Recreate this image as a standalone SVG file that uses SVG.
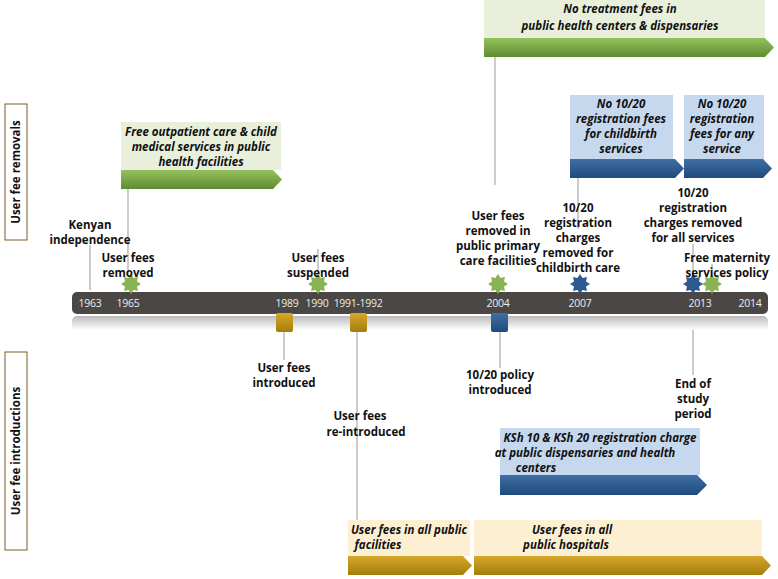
<svg xmlns="http://www.w3.org/2000/svg" width="778" height="579" viewBox="0 0 778 579">
<defs>
<linearGradient id="gG" x1="0" y1="0" x2="0" y2="1"><stop offset="0" stop-color="#95c15e"/><stop offset="1" stop-color="#5f8c30"/></linearGradient>
<linearGradient id="gB" x1="0" y1="0" x2="0" y2="1"><stop offset="0" stop-color="#3f6fa5"/><stop offset="1" stop-color="#1f4a7c"/></linearGradient>
<linearGradient id="gY" x1="0" y1="0" x2="0" y2="1"><stop offset="0" stop-color="#d6a82a"/><stop offset="1" stop-color="#a47e0c"/></linearGradient>
<linearGradient id="sh" x1="0" y1="0" x2="0" y2="1"><stop offset="0" stop-color="#bbb"/><stop offset="1" stop-color="#fff"/></linearGradient>
<polygon id="star" points="0,-10 2.5,-6 7,-7 6,-2.5 10,0 6,2.5 7,7 2.5,6 0,10 -2.5,6 -7,7 -6,2.5 -10,0 -6,-2.5 -7,-7 -2.5,-6"/>
</defs>
<style>
text{font-family:"Open Sans","Liberation Sans",sans-serif;font-size:11.5px;fill:#111;text-anchor:middle}
.b{font-weight:bold}
.bi{font-weight:bold;font-style:italic}
.yr{fill:#eee;font-size:10.5px;letter-spacing:-0.3px}
.ln{stroke:#999;stroke-width:1;fill:none}
.lg{fill:#e8f0dc}.lb{fill:#c6d8ee}.ly{fill:#fdf0d2}
.side{fill:#fff;stroke:#7a5a2a;stroke-width:1}
</style>
<g id="side-labels">
<rect class="side" x="5" y="104" width="22" height="136"/>
<text class="b" transform="translate(20,172) rotate(-90)">User fee removals</text>
<rect class="side" x="5" y="352" width="22" height="198"/>
<text class="b" transform="translate(20,451) rotate(-90)">User fee introductions</text>
</g>
<g id="connectors">
<path class="ln" d="M90,245V290M128,168V276M318,249V275M495,57V185M497,299V276M578,178V229M693,244V276M712,264V276M693,320V375M284,332V360M357,332V520M500,332V368"/>
</g>
<g id="timeline">
<rect x="72" y="316" width="696" height="14" rx="5" fill="url(#sh)"/>
<rect x="72" y="292" width="696" height="22" rx="5" fill="#4a4744"/>
<text class="yr" x="90" y="307">1963</text><text class="yr" x="128" y="307">1965</text>
<text class="yr" x="287" y="307">1989</text><text class="yr" x="317" y="307">1990</text>
<text class="yr" x="358" y="307">1991-1992</text><text class="yr" x="498" y="307">2004</text>
<text class="yr" x="580" y="307">2007</text><text class="yr" x="700" y="307">2013</text>
<text class="yr" x="750" y="307">2014</text>
</g>
<g id="markers">
<use href="#star" x="131" y="284" fill="#8ab356"/>
<use href="#star" x="318" y="284" fill="#8ab356"/>
<use href="#star" x="498" y="284" fill="#8ab356"/>
<use href="#star" x="712" y="284" fill="#8ab356"/>
<use href="#star" x="580" y="284" fill="#2a5a90"/>
<use href="#star" x="693" y="284" fill="#2a5a90"/>
<rect x="276" y="313" width="17" height="19" rx="2" fill="url(#gY)"/>
<rect x="350" y="313" width="17" height="19" rx="2" fill="url(#gY)"/>
<rect x="491" y="313" width="17" height="19" rx="2" fill="url(#gB)"/>
</g>
<g id="event-labels" class="b">
<text x="90" y="229">Kenyan</text><text x="90" y="244">independence</text>
<text x="128" y="262">User fees</text><text x="128" y="277">removed</text>
<text x="318" y="262">User fees</text><text x="318" y="277">suspended</text>
<text x="498" y="220">User fees</text><text x="498" y="235">removed in</text><text x="498" y="250">public primary</text><text x="498" y="265">care facilities</text>
<text x="578" y="212">10/20</text><text x="578" y="227">registration</text><text x="578" y="242">charges</text><text x="578" y="257">removed for</text><text x="578" y="272">childbirth care</text>
<text x="693" y="197">10/20</text><text x="693" y="212">registration</text><text x="693" y="227">charges removed</text><text x="693" y="242">for all services</text>
<text x="727" y="262">Free maternity</text><text x="727" y="277">services policy</text>
<text x="284" y="372">User fees</text><text x="284" y="387">introduced</text>
<text x="360" y="420">User fees</text><text x="366" y="436">re-introduced</text>
<text x="500" y="379">10/20 policy</text><text x="500" y="394">introduced</text>
<text x="693" y="388">End of</text><text x="693" y="403">study</text><text x="693" y="418">period</text>
</g>
<g id="bar-treatment">
<rect class="lg" x="484" y="0" width="281" height="38"/>
<polygon points="484,38 765,38 774,47.5 765,57 484,57" fill="url(#gG)"/>
<text class="bi" x="620" y="13">No treatment fees in</text><text class="bi" x="620" y="30">public health centers &amp; dispensaries</text>
</g>
<g id="bar-outpatient">
<rect class="lg" x="121" y="122" width="160" height="48"/>
<polygon points="121,170 273,170 282,179.5 273,189 121,189" fill="url(#gG)"/>
<text class="bi" x="201" y="136">Free outpatient care &amp; child</text><text class="bi" x="201" y="151">medical services in public</text><text class="bi" x="201" y="166">health facilities</text>
</g>
<g id="bar-childbirth">
<rect class="lb" x="570" y="95" width="103" height="64"/>
<polygon points="570,159 675,159 684,168.5 675,178 570,178" fill="url(#gB)"/>
<text class="bi" x="621" y="108">No 10/20</text><text class="bi" x="621" y="123">registration fees</text><text class="bi" x="621" y="138">for childbirth</text><text class="bi" x="621" y="153">services</text>
</g>
<g id="bar-any">
<rect class="lb" x="684" y="95" width="80" height="64"/>
<polygon points="684,159 763,159 772,168.5 763,178 684,178" fill="url(#gB)"/>
<text class="bi" x="722" y="108">No 10/20</text><text class="bi" x="722" y="123">registration</text><text class="bi" x="722" y="138">fees for any</text><text class="bi" x="722" y="153">service</text>
</g>
<g id="bar-ksh">
<rect class="lb" x="500" y="428" width="200" height="47"/>
<polygon points="500,475 697,475 707,485 697,495 500,495" fill="url(#gB)"/>
<text class="bi" x="600" y="442">KSh 10 &amp; KSh 20 registration charge</text><text class="bi" x="585" y="457">at public dispensaries and health</text><text class="bi" x="536" y="472">centers</text>
</g>
<g id="bar-facilities">
<rect class="ly" x="348" y="520" width="122" height="36"/>
<polygon points="348,556 463,556 472,565.5 463,575 348,575" fill="url(#gY)"/>
<text class="bi" x="409" y="534">User fees in all public</text><text class="bi" x="378" y="549">facilities</text>
</g>
<g id="bar-hospitals">
<rect class="ly" x="474" y="520" width="288" height="36"/>
<polygon points="474,556 762,556 771,565.5 762,575 474,575" fill="url(#gY)"/>
<text class="bi" x="572" y="534">User fees in all</text><text class="bi" x="566" y="549">public hospitals</text>
</g>
</svg>
